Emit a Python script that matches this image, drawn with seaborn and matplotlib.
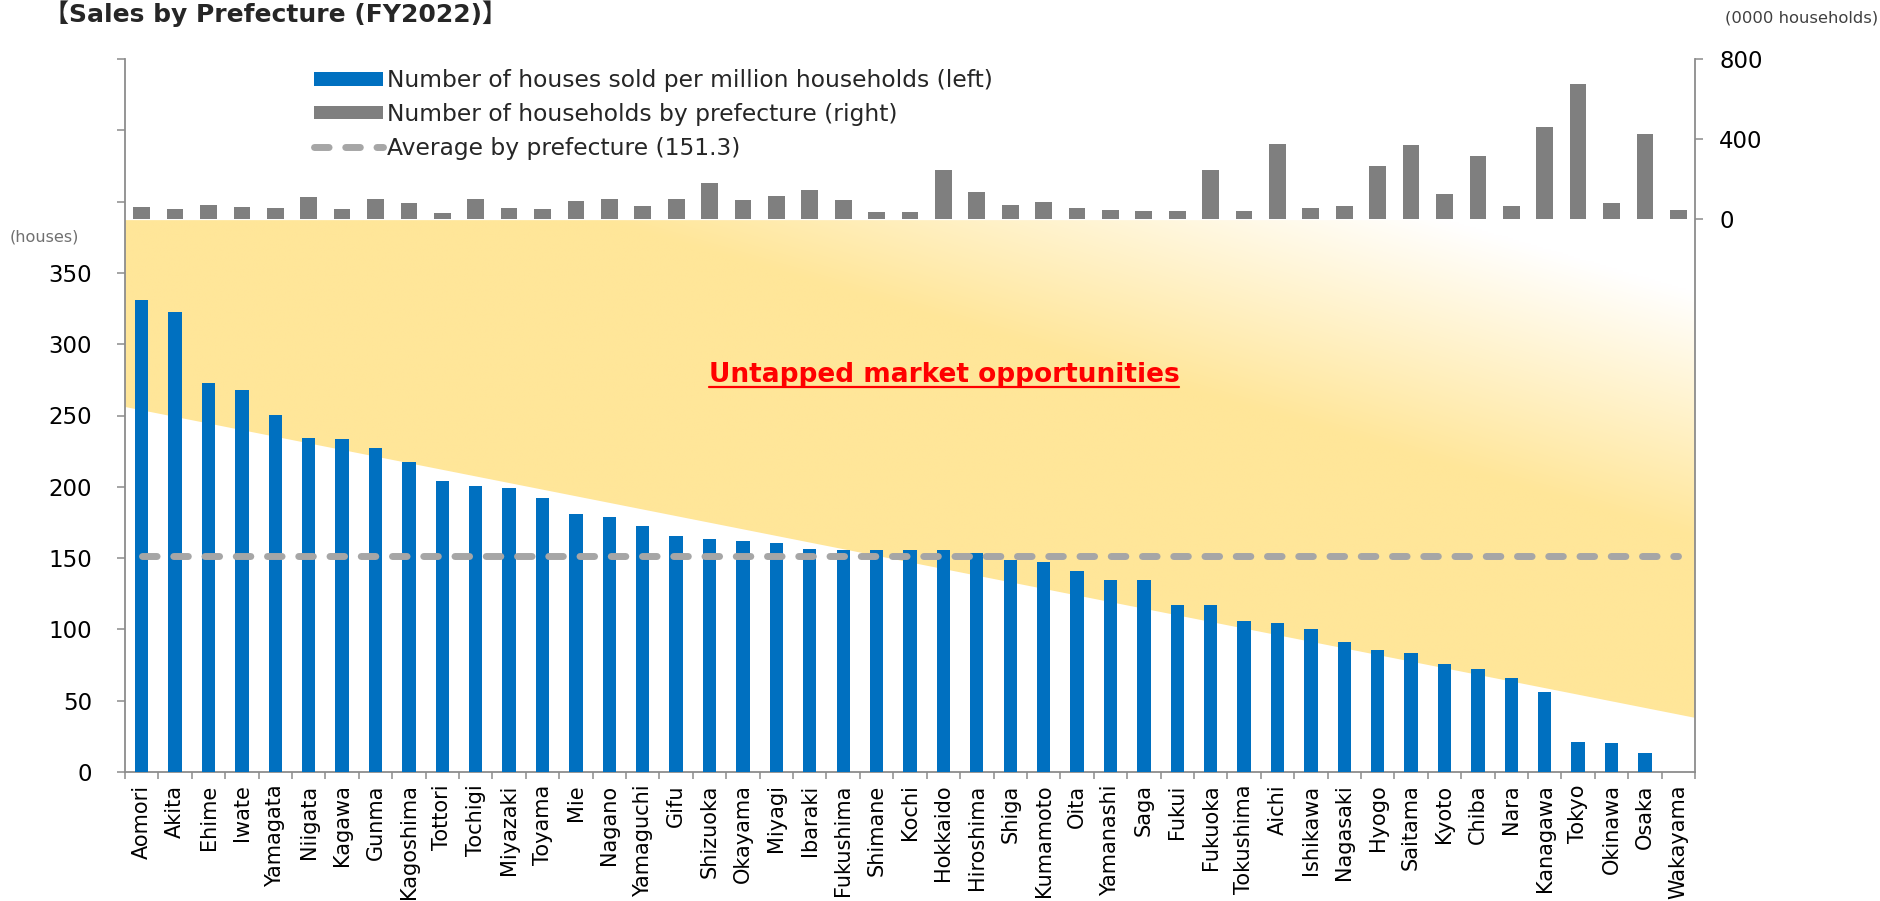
import numpy as np
import pandas as pd
import matplotlib
matplotlib.use("Agg")
import matplotlib.pyplot as plt
import seaborn as sns
from matplotlib.patches import Polygon, Patch
from matplotlib.lines import Line2D
from matplotlib.colors import to_rgb
from matplotlib.ticker import FuncFormatter

# ---- data -------------------------------------------------------------
prefectures = [
    "Aomori", "Akita", "Ehime", "Iwate", "Yamagata", "Niigata", "Kagawa",
    "Gunma", "Kagoshima", "Tottori", "Tochigi", "Miyazaki", "Toyama", "Mie",
    "Nagano", "Yamaguchi", "Gifu", "Shizuoka", "Okayama", "Miyagi", "Ibaraki",
    "Fukushima", "Shimane", "Kochi", "Hokkaido", "Hiroshima", "Shiga",
    "Kumamoto", "Oita", "Yamanashi", "Saga", "Fukui", "Fukuoka", "Tokushima",
    "Aichi", "Ishikawa", "Nagasaki", "Hyogo", "Saitama", "Kyoto", "Chiba",
    "Nara", "Kanagawa", "Tokyo", "Okinawa", "Osaka", "Wakayama",
]
# houses sold per million households (left axis)
sales_per_million = [
    331.0, 322.5, 273.0, 268.0, 250.5, 234.0, 233.3,
    227.2, 217.4, 204.2, 200.5, 199.5, 192.3, 180.8,
    178.9, 172.3, 165.5, 163.4, 161.7, 160.8, 156.2,
    156.0, 155.8, 155.6, 155.4, 153.3, 149.0,
    147.0, 140.8, 134.7, 134.3, 117.4, 116.9, 106.1,
    104.7, 100.5, 91.1, 85.7, 83.3, 75.6, 72.3,
    66.2, 56.3, 20.7, 20.2, 13.1, 0.0,
]
# households by prefecture, in units of 10,000 (right axis)
households = [
    60, 47, 67, 58, 52, 107, 47,
    97, 77, 28, 97, 52, 50, 87,
    100, 65, 97, 180, 92, 112, 145,
    92, 33, 35, 243, 135, 70,
    85, 55, 42, 38, 38, 244, 37,
    376, 55, 64, 264, 370, 123, 314,
    64, 460, 676, 76, 424, 45,
]
average_sales = 151.3

left_ticks = list(range(0, 501, 50))
left_labelled_max = 350
right_ticks = [0, 400, 800]

# opportunity band (left-axis units): flat top, sloping lower edge
band_top = 387
band_bottom_left = 256
band_bottom_right = 38

BLUE = "#0070C0"
GREY_BAR = "#7F7F7F"
AVG_GREY = "#A6A6A6"
YELLOW = "#FFE699"
SPINE = "#8C8C8C"

sns.set_theme(style="white")
plt.rcParams["font.family"] = ["DejaVu Sans", "Noto Sans CJK JP"]

W, H = 1881, 901
fig = plt.figure(figsize=(W / 100, H / 100), dpi=100)
ax = fig.add_axes([125 / W, 1 - 772 / H, (1695 - 125) / W, (772 - 59) / H])
ax2 = ax.twinx()

df = pd.DataFrame({"prefecture": prefectures,
                   "sales": sales_per_million,
                   "households": households})
n = len(prefectures)
x0, x1 = -0.5, n - 0.5

# ---- gradient band: yellow fading to white toward the upper right ------
gx = np.linspace(0, 1, 800)
gy = np.linspace(0, 1, 400)
GX, GY = np.meshgrid(gx, gy)
px, py = GX * 1570, GY * 713
s = 0.29 * px + py
t = np.clip((s - 690) / (935 - 690), 0, 1)
img = np.array(to_rgb(YELLOW)) * (1 - t[..., None]) + np.ones(3) * t[..., None]
im = ax.imshow(img, extent=(x0, x1, 0, 500), origin="lower", aspect="auto",
               zorder=1, interpolation="bilinear")
band = Polygon([(x0, band_top), (x1, band_top), (x1, band_bottom_right),
                (x0, band_bottom_left)], closed=True, facecolor="none",
               edgecolor="none", transform=ax.transData)
ax.add_patch(band)
im.set_clip_path(band)

# ---- bars -------------------------------------------------------------
sns.barplot(data=df, x="prefecture", y="sales", color=BLUE, saturation=1,
            width=0.4, linewidth=0, ax=ax, zorder=3)
sns.barplot(data=df, x="prefecture", y="households", color=GREY_BAR,
            saturation=1, width=0.5, linewidth=0, ax=ax2, zorder=3)

# average line
avg_style = dict(color=AVG_GREY, lw=5, linestyle=(0, (2.1, 2.4)),
                 dash_capstyle="round")
ax.plot([0, n - 1], [average_sales, average_sales], zorder=4, **avg_style)

# ---- axes -------------------------------------------------------------
ax.set_xlim(x0, x1)
ax.set_ylim(0, 500)
ax2.set_ylim(-2775, 800)
ax.set_xlabel("")
ax.set_ylabel("")
ax2.set_ylabel("")
ax2.xaxis.set_visible(False)

ax.set_yticks(left_ticks)
ax.yaxis.set_major_formatter(
    FuncFormatter(lambda v, _: f"{int(v)}" if v <= left_labelled_max else ""))
ax2.set_yticks(right_ticks)
ax2.set_yticklabels([str(v) for v in right_ticks])

ax.set_xticks(range(n))
ax.set_xticklabels(prefectures, rotation=90, fontsize=15)
ax.set_xticks(np.arange(-0.5, n, 1), minor=True)
ax.tick_params(axis="x", which="major", length=0, pad=9, bottom=True,
               labelcolor="black")
ax.tick_params(axis="x", which="minor", length=5, width=1.1, color=SPINE,
               bottom=True)
ax.tick_params(axis="y", which="major", length=5.8, width=1.1, color=SPINE,
               left=True, pad=18, labelsize=16.5, labelcolor="black")
ax2.tick_params(axis="y", which="major", length=5.8, width=1.1, color=SPINE,
                right=True, left=False, pad=11.5, labelsize=16.5,
                labelcolor="black")

for name, sp in ax.spines.items():
    sp.set_visible(name in ("left", "bottom"))
    sp.set_color(SPINE)
    sp.set_linewidth(1.3)
for name, sp in ax2.spines.items():
    sp.set_visible(name == "right")
    sp.set_color(SPINE)
    sp.set_linewidth(1.3)
ax.grid(False)
ax2.grid(False)

# ---- legend -----------------------------------------------------------
handles = [
    Patch(facecolor=BLUE, edgecolor="none"),
    Patch(facecolor=GREY_BAR, edgecolor="none"),
    Line2D([], [], **avg_style),
]
labels = [
    "Number of houses sold per million households (left)",
    "Number of households by prefecture (right)",
    f"Average by prefecture ({average_sales})",
]
fig.legend(handles, labels, loc="upper left",
           bbox_to_anchor=(314 / W, 1 - 69 / H), frameon=False,
           fontsize=16.8, handlelength=2.95, handleheight=0.52,
           handletextpad=0.2, labelspacing=0.47, borderpad=0,
           borderaxespad=0)

# ---- texts ------------------------------------------------------------
fig.text(44 / W, 1 - 22 / H, "【Sales by Prefecture (FY2022)】",
         fontsize=18, fontweight="bold", ha="left", va="baseline")
fig.text(1878 / W, 1 - 18 / H, "(0000 households)", fontsize=11.8,
         color="#404040", ha="right", va="center")
fig.text(10 / W, 1 - 237 / H, "(houses)", fontsize=11.6, color="#707070",
         ha="left", va="center")

callout = fig.text(944 / W, 1 - 375 / H, "Untapped market opportunities",
                   fontsize=19, fontweight="bold", color="#FF0000",
                   ha="center", va="center", zorder=6)
fig.canvas.draw()
bb = callout.get_window_extent()
inv = fig.transFigure.inverted()
(ux0, uy), (ux1, _) = inv.transform([(bb.x0, bb.y0 + 1), (bb.x1, bb.y0 + 1)])
fig.add_artist(Line2D([ux0, ux1], [uy, uy], color="#FF0000", lw=1.6,
                      transform=fig.transFigure, zorder=6))

fig.savefig("out.png", dpi=100)
